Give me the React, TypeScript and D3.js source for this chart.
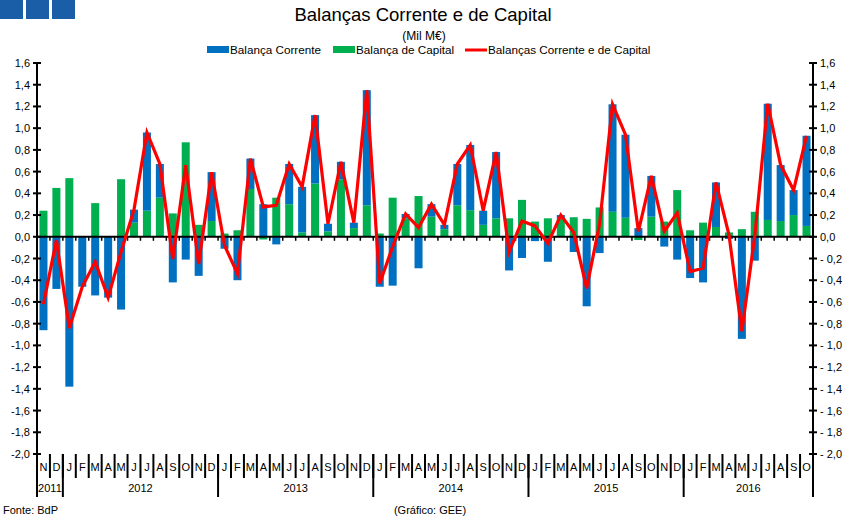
import React from "react";
import * as d3 from "d3";

// months Nov 2011 .. Oct 2016
const months: string[] = [
  "N", "D",
  "J", "F", "M", "A", "M", "J", "J", "A", "S", "O", "N", "D",
  "J", "F", "M", "A", "M", "J", "J", "A", "S", "O", "N", "D",
  "J", "F", "M", "A", "M", "J", "J", "A", "S", "O", "N", "D",
  "J", "F", "M", "A", "M", "J", "J", "A", "S", "O", "N", "D",
  "J", "F", "M", "A", "M", "J", "J", "A", "S", "O",
];

const years: { label: string; start: number; end: number }[] = [
  { label: "2011", start: 0, end: 2 },
  { label: "2012", start: 2, end: 14 },
  { label: "2013", start: 14, end: 26 },
  { label: "2014", start: 26, end: 38 },
  { label: "2015", start: 38, end: 50 },
  { label: "2016", start: 50, end: 60 },
];

// Balança Corrente (mil M€)
const current: number[] = [
  -0.86, -0.48,
  -1.38, -0.46, -0.54, -0.56, -0.67, 0.12, 0.72, 0.31, -0.42, -0.21, -0.36, 0.45,
  -0.11, -0.4, 0.28, 0.3, -0.07, 0.37, 0.42, 0.63, 0.07, 0.16, 0.05, 1.06,
  -0.46, -0.45, 0.04, -0.29, 0.115, 0.04, 0.38, 0.6, 0.13, 0.61, -0.31, -0.195,
  -0.04, -0.23, 0.03, -0.14, -0.64, -0.15, 0.99, 0.765, 0.08, 0.375, -0.09, -0.21,
  -0.38, -0.42, 0.41, -0.02, -0.94, -0.22, 1.07, 0.515, 0.23, 0.83,
];

// Balança de Capital (mil M€)
const capital: number[] = [
  0.24, 0.45,
  0.54, 0.0, 0.31, 0.0, 0.53, 0.13, 0.24, 0.36, 0.215, 0.87, 0.11, 0.145,
  0.03, 0.06, 0.44, -0.025, 0.36, 0.3, 0.04, 0.49, 0.05, 0.53, 0.08, 0.29,
  0.03, 0.36, 0.17, 0.375, 0.185, 0.07, 0.29, 0.245, 0.11, 0.17, 0.17, 0.34,
  0.14, 0.17, 0.17, 0.18, 0.165, 0.27, 0.23, 0.175, -0.03, 0.185, 0.14, 0.43,
  0.06, 0.13, 0.09, 0.04, 0.07, 0.23, 0.155, 0.145, 0.2, 0.1,
];

const yTicks: number[] = [1.6, 1.4, 1.2, 1.0, 0.8, 0.6, 0.4, 0.2, 0.0, -0.2, -0.4, -0.6, -0.8, -1.0, -1.2, -1.4, -1.6, -1.8, -2.0];

const BLUE = "#0070C0";
const GREEN = "#00B050";
const RED = "#FF0000";
const FONT = "'Liberation Sans', Arial, sans-serif";

const W = 851;
const H = 518;
const left = 37;
const right = 813;
const top = 63;
const bottom = 454;

export default function App() {
  const rows = months.map((m, i) => ({ i, current: current[i], capital: capital[i] }));
  const totals = rows.map((r) => r.current + r.capital);

  const x = d3.scaleBand<number>().domain(d3.range(months.length)).range([left, right]).paddingInner(0.38).paddingOuter(0.19);
  const step = (right - left) / months.length;
  const y = d3.scaleLinear().domain([-2, 1.6]).range([bottom, top]);

  // capital stacked first (bottom), current on top; negatives go down from 0
  const series = d3
    .stack<any>()
    .keys(["capital", "current"])
    .offset(d3.stackOffsetDiverging)(rows);

  const line = d3
    .line<number>()
    .x((_, i) => (x(i) as number) + x.bandwidth() / 2)
    .y((d) => y(d));

  const fmtL = (v: number) => (v < -0.001 ? "-" : "") + Math.abs(v).toFixed(1).replace(".", ",");
  const fmtR = (v: number) => (v < -0.001 ? "- " : "") + Math.abs(v).toFixed(1).replace(".", ",");

  return (
    <svg width={W} height={H} style={{ position: "absolute", left: 0, top: 0, background: "#fff" }} fontFamily={FONT}>
      {/* corner logo */}
      {[0, 26, 52].map((sx) => (
        <rect key={sx} x={sx} y={0} width={23} height={19} fill="#1B5EA8" />
      ))}

      <text x={423} y={21} textAnchor="middle" fontSize={18.5}>
        Balanças Corrente e de Capital
      </text>
      <text x={424} y={40} textAnchor="middle" fontSize={12}>
        (Mil M€)
      </text>

      {/* legend */}
      <g fontSize={11.7}>
        <rect x={207} y={46} width={22} height={7} fill={BLUE} />
        <text x={230} y={54}>Balança Corrente</text>
        <rect x={333} y={46} width={22} height={7} fill={GREEN} />
        <text x={356} y={54}>Balança de Capital</text>
        <line x1={465} x2={487} y1={50} y2={50} stroke={RED} strokeWidth={3} />
        <text x={488} y={54}>Balanças Corrente e de Capital</text>
      </g>

      {/* bars */}
      {series.map((s) => (
        <g key={s.key} fill={s.key === "current" ? BLUE : GREEN}>
          {s.map((d, i) => (
            <rect
              key={i}
              x={x(i)}
              width={x.bandwidth()}
              y={y(Math.max(d[0], d[1]))}
              height={Math.abs(y(d[0]) - y(d[1]))}
            />
          ))}
        </g>
      ))}

      {/* zero axis */}
      <line x1={left} x2={right} y1={y(0)} y2={y(0)} stroke="#000" strokeWidth={2} />
      {d3.range(months.length + 1).map((k) => (
        <line key={k} x1={left + k * step} x2={left + k * step} y1={y(0)} y2={y(0) + 4} stroke="#000" strokeWidth={1.5} />
      ))}

      {/* total line */}
      <path d={line(totals) || ""} fill="none" stroke={RED} strokeWidth={3.2} strokeLinejoin="miter" />

      {/* value axes */}
      <line x1={left} x2={left} y1={top} y2={497} stroke="#000" strokeWidth={2} />
      <line x1={right} x2={right} y1={top} y2={497} stroke="#000" strokeWidth={2} />
      <g fontSize={11}>
        {yTicks.map((t) => (
          <g key={t}>
            <line x1={left - 4} x2={left + 4} y1={y(t)} y2={y(t)} stroke="#000" strokeWidth={2} />
            <line x1={right - 4} x2={right + 4} y1={y(t)} y2={y(t)} stroke="#000" strokeWidth={2} />
            <text x={left - 7} y={y(t) + 4} textAnchor="end">
              {fmtL(t)}
            </text>
            <text x={right + 7} y={y(t) + 4}>
              {fmtR(t)}
            </text>
          </g>
        ))}
      </g>

      {/* category axis */}
      {d3.range(months.length + 1).map((k) => (
        <line key={k} x1={left + k * step} x2={left + k * step} y1={bottom} y2={478} stroke="#000" strokeWidth={2} />
      ))}
      {years.map((yr) => (
        <line key={yr.label} x1={left + yr.start * step} x2={left + yr.start * step} y1={bottom} y2={497} stroke="#000" strokeWidth={2} />
      ))}
      <g fontSize={11}>
        {months.map((m, i) => (
          <text key={i} x={(x(i) as number) + x.bandwidth() / 2} y={471} textAnchor="middle">
            {m}
          </text>
        ))}
        {years.map((yr) => (
          <text key={yr.label} x={left + ((yr.start + yr.end) / 2) * step} y={492} textAnchor="middle">
            {yr.label}
          </text>
        ))}
      </g>

      <g fontSize={11}>
        <text x={3} y={514}>Fonte: BdP</text>
        <text x={430} y={514} textAnchor="middle">(Gráfico: GEE)</text>
      </g>
    </svg>
  );
}
